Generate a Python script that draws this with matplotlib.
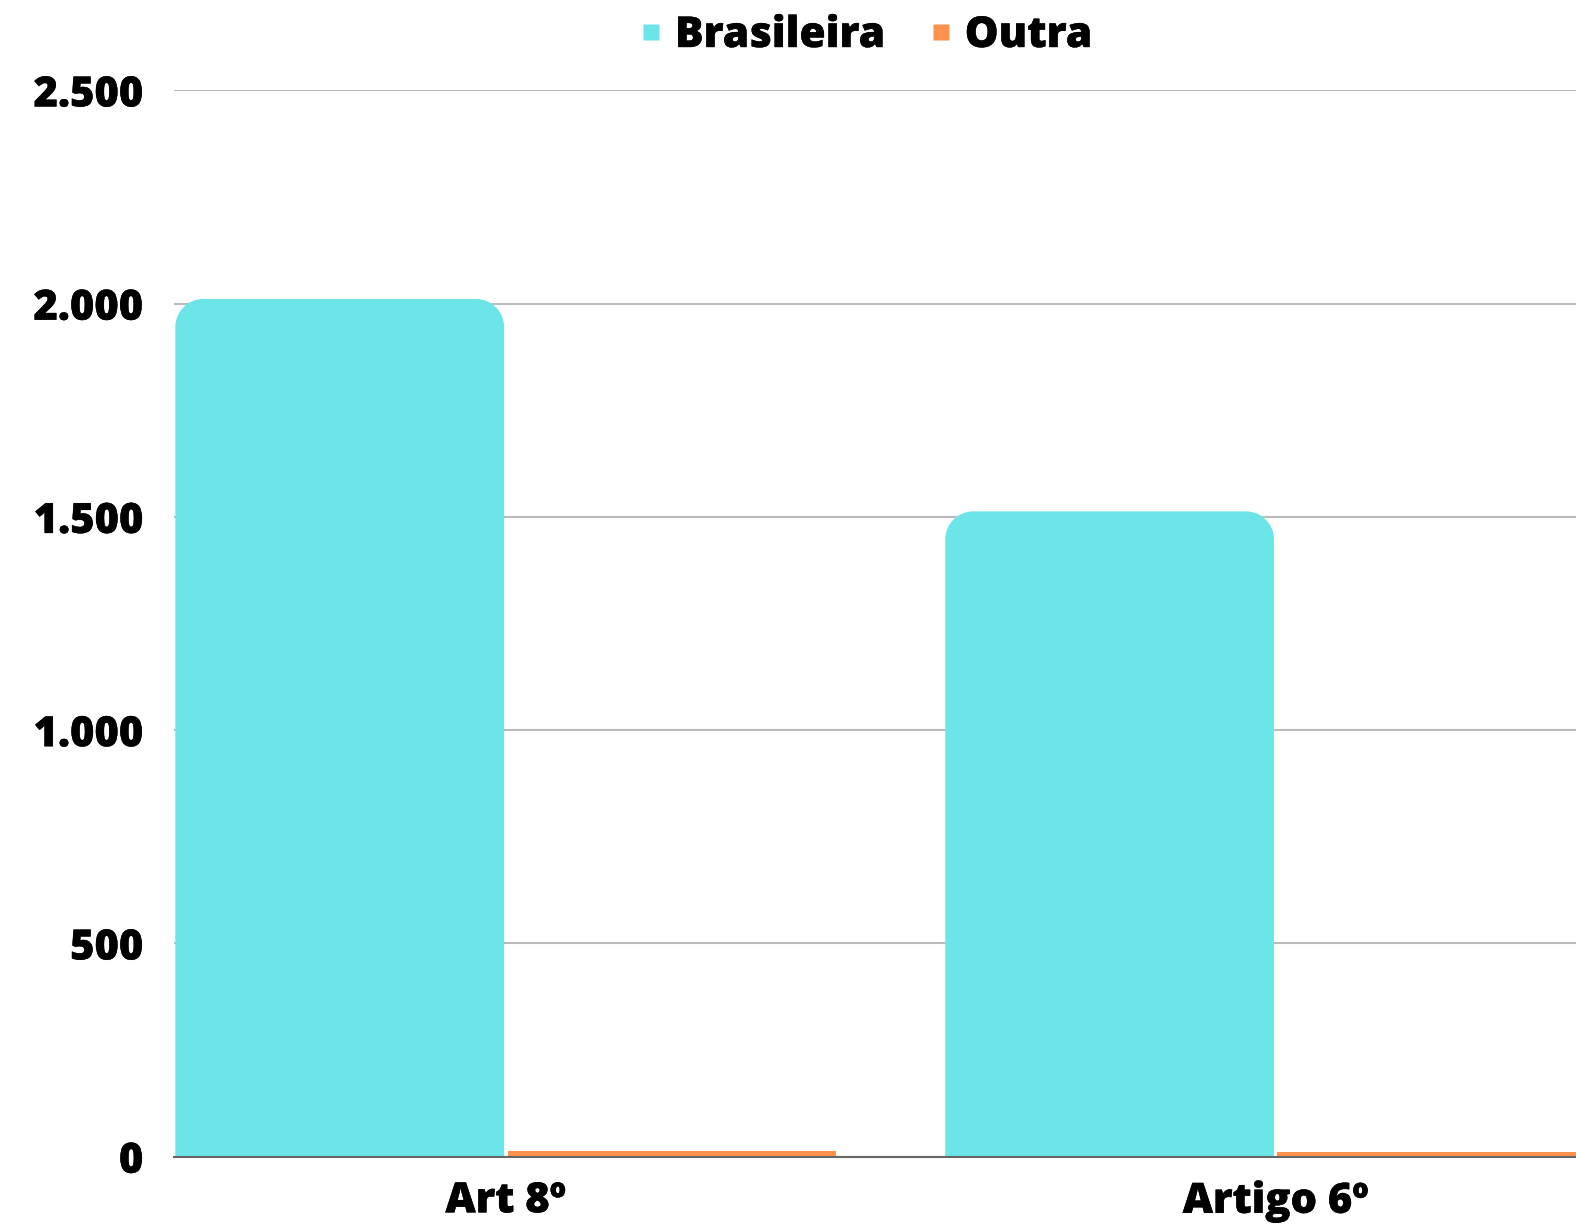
import numpy as np
import matplotlib.pyplot as plt
import matplotlib.patheffects as pe
from matplotlib.path import Path
from matplotlib.patches import PathPatch
from matplotlib.lines import Line2D

plt.rcParams['font.family'] = ['Open Sans', 'DejaVu Sans']
plt.rcParams['font.weight'] = 800

categories = ['Art 8º', 'Artigo 6º']
series = ['Brasileira', 'Outra']
brasileira = [2011, 1513]
outra = [13, 11]
colors = ['#6ce5e8', '#ff914d']

fig = plt.figure(figsize=(15.76, 12.26), dpi=100)
ax = fig.add_axes([174 / 1576, 69.3 / 1226, 1 - 174 / 1576, (1156.7 - 90.4) / 1226])

x = np.arange(len(categories))
w = 0.427
gap = 0.0045
heavy = [pe.withStroke(linewidth=0.3, foreground='black')]


def rounded(rect, rx, ry):
    x0, y0 = rect.get_x(), rect.get_y()
    x1, y1 = x0 + rect.get_width(), y0 + rect.get_height()
    k = 0.5523
    verts = [(x0, y0), (x0, y1 - ry),
             (x0, y1 - ry + k * ry), (x0 + rx - k * rx, y1), (x0 + rx, y1),
             (x1 - rx, y1),
             (x1 - rx + k * rx, y1), (x1, y1 - ry + k * ry), (x1, y1 - ry),
             (x1, y0), (x0, y0)]
    codes = [Path.MOVETO, Path.LINETO,
             Path.CURVE4, Path.CURVE4, Path.CURVE4,
             Path.LINETO,
             Path.CURVE4, Path.CURVE4, Path.CURVE4,
             Path.LINETO, Path.CLOSEPOLY]
    return Path(verts, codes)


bars1 = ax.bar(x - w / 2 - gap / 2, brasileira, w, color=colors[0], zorder=3)
bars2 = ax.bar(x + w / 2 + gap / 2, outra, w, color=colors[1], zorder=3)

# px per unit: x 770 px per category, y 213.3 px per 500
rx, ry = 28 / 770, 28 * 500 / 213.3
for b in bars1:
    ax.add_patch(PathPatch(rounded(b, rx, ry), facecolor=colors[0], edgecolor='none', zorder=3))
    b.set_visible(False)

ax.set_xlim(-0.431, 1.39)
ax.set_ylim(0, 2500)
ax.set_yticks([0, 500, 1000, 1500, 2000, 2500])
ax.set_yticklabels(['0', '500', '1.000', '1.500', '2.000', '2.500'])
ax.set_xticks(x)
ax.set_xticklabels(categories)
ax.tick_params(axis='y', length=0, pad=22, labelsize=30)
ax.tick_params(axis='x', length=0, pad=17, labelsize=30)
for t in ax.get_xticklabels() + ax.get_yticklabels():
    t.set_path_effects(heavy)
ax.yaxis.grid(True, color='#bbbbbb', linewidth=1.5, zorder=0)
ax.set_axisbelow(True)
for s in ['left', 'right', 'top']:
    ax.spines[s].set_visible(False)
ax.spines['bottom'].set_color('#666666')
ax.spines['bottom'].set_linewidth(1.5)
ax.spines['bottom'].set_zorder(4)

handles = [Line2D([], [], marker='s', linestyle='none', markersize=11,
                  markerfacecolor=c, markeredgecolor='none') for c in colors]
leg = fig.legend(handles, series, loc='center', bbox_to_anchor=(0.549, 1 - 36 / 1226),
                 ncol=2, frameon=False, fontsize=30.6, handlelength=0.6,
                 handletextpad=0.26, columnspacing=1.02)
for t in leg.get_texts():
    t.set_path_effects(heavy)

fig.savefig('out.png', dpi=100)
